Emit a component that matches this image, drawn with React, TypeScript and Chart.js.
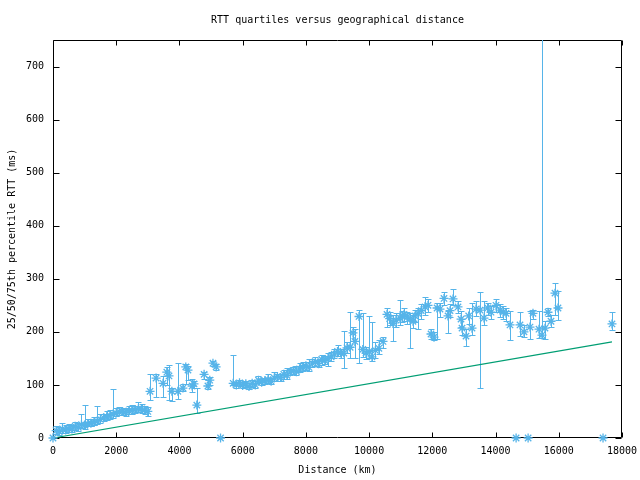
import React, { useEffect, useRef } from "react";
import { Chart, registerables } from "chart.js";

Chart.register(...registerables);

// Distance (km) of each measurement bucket
const distanceKm = [
  0, 100, 200, 300, 400, 500, 600, 700, 800, 900, 1000, 1100, 1200, 1300, 1400, 1500,
  1600, 1700, 1800, 1900, 2000, 2100, 2200, 2300, 2400, 2500, 2600, 2700, 2800, 2900, 3000,
  3070, 3260, 3480, 3600, 3670, 3760, 3950, 4110, 4200, 4270, 4400, 4460, 4550, 4780, 4900,
  4960, 5060, 5160, 5300,
  5700, 5800, 5900, 6000, 6100, 6200, 6300, 6400, 6500, 6600, 6700, 6800, 6900, 7000, 7100,
  7200, 7300, 7400, 7500, 7600, 7700, 7800, 7900, 8000, 8100, 8200, 8300, 8400, 8500, 8600,
  8700, 8800, 8900, 9000, 9100, 9200, 9300, 9400, 9490, 9550, 9680, 9800, 9900, 10000, 10090,
  10200, 10310, 10440,
  10566, 10650, 10755, 10850, 10977, 11050, 11104, 11200, 11293, 11388, 11450, 11546, 11650,
  11768, 11863, 11958, 12053, 12150, 12242, 12369, 12495, 12560, 12654, 12812, 12907, 12939,
  13065, 13150, 13255, 13381, 13508, 13634, 13750, 13856, 14014, 14140, 14240, 14330, 14457,
  14650, 14773, 14899, 15030, 15089, 15184, 15374, 15469, 15564, 15659, 15754, 15880, 15975,
  17400, 17683,
];

// Median (50th percentile) RTT, ms
const medianRtt = [
  0, 14, 12, 17, 15, 18, 17, 22, 20, 25, 24, 27, 28, 29, 32, 35,
  38, 40, 42, 45, 47, 49, 50, 48, 51, 52, 53, 55, 55, 52, 50,
  88, 113, 103, 124, 117, 88, 88, 94, 134, 128, 98, 102, 62, 120, 98,
  109, 141, 134, 0,
  103, 100, 104, 99, 102, 97, 103, 100, 109, 105, 108, 110, 107, 113, 116,
  114, 120, 118, 124, 127, 125, 130, 134, 136, 133, 141, 144, 140, 148, 146,
  150, 153, 158, 163, 160, 160, 170, 171, 198, 182, 229, 167, 160, 163, 153,
  165, 169, 182,
  233, 225, 216, 222, 226, 230, 233, 228, 224, 220, 230, 235, 240,
  247, 250, 196, 190, 245, 243, 263, 230, 240, 262, 247, 224, 207,
  192, 230, 207, 243, 241, 226, 245, 237, 250, 241, 237, 235, 213,
  0, 213, 200, 0, 209, 235, 205, 194, 207, 237, 220, 273, 245,
  0, 215,
];

// 25th percentile RTT, ms
const q25Rtt = [
  0, 8, 6, 10, 9, 12, 11, 15, 14, 18, 17, 22, 22, 24, 26, 29,
  32, 34, 36, 38, 41, 43, 44, 42, 45, 46, 47, 49, 48, 45, 42,
  71, 77, 77, 100, 71, 70, 73, 88, 102, 110, 87, 95, 47, 112, 92,
  100, 135, 128, 0,
  100, 95, 98, 94, 96, 92, 97, 95, 103, 99, 102, 104, 101, 107, 108,
  108, 112, 112, 118, 120, 118, 124, 127, 128, 126, 134, 136, 133, 138, 140,
  136, 146, 150, 155, 150, 131, 160, 150, 182, 150, 141, 153, 148, 150, 145,
  150, 158, 170,
  209, 212, 182, 210, 212, 218, 220, 215, 169, 208, 218, 205, 225,
  232, 238, 186, 184, 186, 228, 250, 198, 228, 250, 235, 210, 195,
  173, 215, 195, 230, 94, 212, 232, 225, 238, 228, 225, 220, 184,
  0, 192, 190, 0, 186, 225, 188, 188, 186, 229, 209, 231, 222,
  0, 203,
];

// 75th percentile RTT, ms
const q75Rtt = [
  0, 22, 20, 28, 24, 26, 25, 30, 28, 45, 62, 36, 36, 40, 60, 45,
  46, 50, 52, 92, 56, 58, 57, 56, 60, 62, 60, 68, 64, 60, 58,
  120, 120, 117, 134, 137, 94, 141, 102, 139, 135, 111, 108, 94, 124, 110,
  115, 145, 140, 0,
  156, 106, 110, 106, 108, 104, 110, 107, 117, 112, 114, 120, 113, 125, 121,
  120, 128, 131, 130, 134, 136, 142, 143, 144, 148, 149, 152, 147, 157, 155,
  160, 162, 168, 175, 168, 201, 180, 237, 210, 205, 241, 235, 172, 229, 218,
  180, 185, 190,
  245, 238, 232, 235, 260, 240, 245, 238, 236, 232, 242, 245, 252,
  265, 262, 205, 200, 255, 255, 275, 240, 252, 280, 258, 240, 225,
  205, 245, 254, 258, 275, 258, 255, 248, 262, 252, 248, 245, 240,
  0, 237, 212, 0, 239, 242, 239, 1000, 220, 245, 231, 292, 277,
  0, 237,
];

// Reference line (speed-of-light-in-fibre bound)
const lineDistanceKm = [0, 17683];
const lineRttMs = [0, 181];

const xTicks = [0, 2000, 4000, 6000, 8000, 10000, 12000, 14000, 16000, 18000];
const yTicks = [0, 100, 200, 300, 400, 500, 600, 700];

const BLUE = "#56b4e9";
const GREEN = "#009e73";
const FONT = "'DejaVu Sans Mono', 'Liberation Mono', monospace";

const errorBarsPlugin = {
  id: "errorBars",
  beforeDatasetsDraw(chart: any) {
    const { ctx, chartArea, scales } = chart;
    const x = scales.x;
    const y = scales.y;
    ctx.save();
    ctx.beginPath();
    ctx.rect(chartArea.left, chartArea.top, chartArea.right - chartArea.left, chartArea.bottom - chartArea.top + 1);
    ctx.clip();
    ctx.strokeStyle = BLUE;
    ctx.lineWidth = 1;
    ctx.beginPath();
    for (let i = 0; i < distanceKm.length; i++) {
      const lo = q25Rtt[i];
      const hi = q75Rtt[i];
      if (hi <= lo) continue;
      const px = Math.round(x.getPixelForValue(distanceKm[i])) + 0.5;
      const yl = Math.round(y.getPixelForValue(lo)) + 0.5;
      const yh = Math.round(y.getPixelForValue(hi)) + 0.5;
      ctx.moveTo(px, yl);
      ctx.lineTo(px, yh);
      ctx.moveTo(px - 3, yl);
      ctx.lineTo(px + 3, yl);
      ctx.moveTo(px - 3, yh);
      ctx.lineTo(px + 3, yh);
    }
    ctx.stroke();
    ctx.restore();
  },
};

const framePlugin = {
  id: "frame",
  beforeDatasetsDraw(chart: any) {
    const { ctx, chartArea, scales } = chart;
    const { left, right, top, bottom } = chartArea;
    const x = scales.x;
    const y = scales.y;
    ctx.save();
    ctx.strokeStyle = "#000";
    ctx.lineWidth = 1;
    const L = Math.round(left) + 0.5;
    const R = Math.round(right) - 0.5;
    const T = Math.round(top) + 0.5;
    const B = Math.round(bottom) - 0.5;
    ctx.beginPath();
    ctx.rect(L, T, R - L, B - T);
    for (const v of xTicks) {
      const px = Math.round(x.getPixelForValue(v)) + 0.5;
      ctx.moveTo(px, B);
      ctx.lineTo(px, B - 5);
      ctx.moveTo(px, T);
      ctx.lineTo(px, T + 5);
    }
    for (const v of yTicks) {
      const py = Math.round(y.getPixelForValue(v)) + 0.5;
      ctx.moveTo(L, py);
      ctx.lineTo(L + 6, py);
      ctx.moveTo(R, py);
      ctx.lineTo(R - 6, py);
    }
    ctx.stroke();
    ctx.restore();
  },
};

export default function App() {
  const canvasRef = useRef<HTMLCanvasElement | null>(null);

  useEffect(() => {
    if (!canvasRef.current) return;
    const chart = new Chart(canvasRef.current, {
      type: "scatter",
      data: {
        datasets: [
          {
            label: "median",
            data: distanceKm.map((d, i) => ({ x: d, y: medianRtt[i] })),
            pointStyle: "star",
            pointRadius: 4.5,
            pointBorderWidth: 1.3,
            borderColor: BLUE,
            backgroundColor: BLUE,
            showLine: false,
            clip: false,
          } as any,
          {
            label: "bound",
            data: lineDistanceKm.map((d, i) => ({ x: d, y: lineRttMs[i] })),
            showLine: true,
            borderColor: GREEN,
            borderWidth: 1.2,
            pointRadius: 0,
            fill: false,
          } as any,
        ],
      },
      options: {
        animation: false,
        responsive: false,
        devicePixelRatio: 1,
        layout: { padding: { left: 0, right: 18, top: 0, bottom: 0 } },
        plugins: {
          legend: { display: false },
          tooltip: { enabled: false },
          title: {
            display: true,
            text: "RTT quartiles versus geographical distance",
            fullSize: false,
            color: "#000",
            font: { family: FONT, size: 10, weight: "normal" },
            padding: { top: 14, bottom: 14 },
          },
        },
        scales: {
          x: {
            type: "linear",
            min: 0,
            max: 18000,
            afterBuildTicks: (s: any) => {
              s.ticks = xTicks.map((v) => ({ value: v }));
            },
            afterFit: (s: any) => {
              s.height = 42;
              s.paddingLeft = 0;
              s.paddingRight = 0;
            },
            grid: { display: false, drawTicks: false },
            border: { display: false },
            ticks: {
              color: "#000",
              font: { family: FONT, size: 10 },
              padding: 7,
              maxRotation: 0,
              autoSkip: false,
              callback: (v: any) => String(v),
            },
            title: {
              display: true,
              text: "Distance (km)",
              color: "#000",
              font: { family: FONT, size: 10 },
              padding: { top: 0, bottom: 4 },
            },
          },
          y: {
            type: "linear",
            min: 0,
            max: 750,
            afterBuildTicks: (s: any) => {
              s.ticks = yTicks.map((v) => ({ value: v }));
            },
            afterFit: (s: any) => {
              s.width = 53;
              s.paddingTop = 0;
              s.paddingBottom = 0;
            },
            grid: { display: false, drawTicks: false },
            border: { display: false },
            ticks: {
              color: "#000",
              font: { family: FONT, size: 10 },
              padding: 9,
              autoSkip: false,
              callback: (v: any) => String(v),
            },
            title: {
              display: true,
              text: "25/50/75th percentile RTT (ms)",
              color: "#000",
              font: { family: FONT, size: 10 },
              padding: { top: 6.5, bottom: 0 },
            },
          },
        },
      } as any,
      plugins: [framePlugin, errorBarsPlugin],
    });
    return () => chart.destroy();
  }, []);

  return (
    <canvas
      ref={canvasRef}
      width={640}
      height={480}
      style={{ position: "fixed", left: 0, top: 0, width: 640, height: 480, background: "#fff" }}
    />
  );
}
